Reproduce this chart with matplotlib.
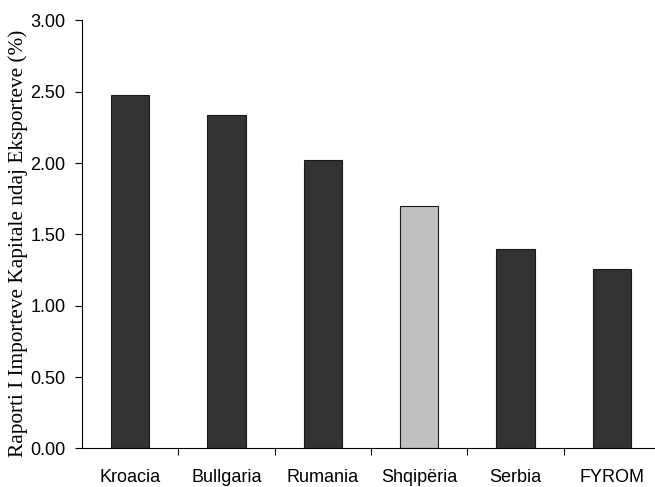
import matplotlib.pyplot as plt
import numpy as np
from matplotlib.ticker import FormatStrFormatter

# vendet dhe raporti i importeve kapitale ndaj eksporteve (%)
vendet = ["Kroacia", "Bullgaria", "Rumania", "Shqipëria", "Serbia", "FYROM"]
raporti = [2.48, 2.34, 2.02, 1.70, 1.40, 1.26]
ngjyrat = ["#333333", "#333333", "#333333", "#c0c0c0", "#333333", "#333333"]
y_ticks = [0.0, 0.5, 1.0, 1.5, 2.0, 2.5, 3.0]

fig = plt.figure(figsize=(6.55, 4.87), dpi=100)
# boshti i djathte del pak jashte figures
ax = fig.add_axes([82 / 655, 38.7 / 487, 578 / 655, 427.8 / 487])

x = np.arange(len(vendet))
ax.bar(x, raporti, width=0.4, color=ngjyrat, edgecolor="#1a1a1a", linewidth=0.8)

ax.set_xlim(-0.5, len(vendet) - 0.5)
ax.set_ylim(0, 3.0)
ax.set_yticks(y_ticks)
ax.yaxis.set_major_formatter(FormatStrFormatter("%.2f"))

# vijat ndarese mes kategorive, emrat ne qender
ax.set_xticks(x[:-1] + 0.5)
ax.set_xticklabels([])
ax.set_xticks(x, minor=True)
ax.set_xticklabels(vendet, minor=True, fontsize=13, fontfamily="Liberation Sans")
ax.tick_params(axis="x", which="major", direction="out", length=5, width=0.8)
ax.tick_params(axis="x", which="minor", length=0, pad=15)
ax.tick_params(axis="y", direction="out", length=5, width=0.8, pad=7)
for lbl in ax.get_yticklabels():
    lbl.set_fontfamily("Liberation Sans")
    lbl.set_fontsize(13)

for side in ("top", "right"):
    ax.spines[side].set_visible(False)
for side in ("left", "bottom"):
    ax.spines[side].set_linewidth(0.8)

fig.text(18 / 655, 1 - 243.5 / 487, "Raporti I Importeve Kapitale ndaj Eksporteve (%)",
         rotation=90, ha="center", va="center", fontsize=15.3, fontfamily="Liberation Serif")

fig.savefig("out.png", dpi=100)
